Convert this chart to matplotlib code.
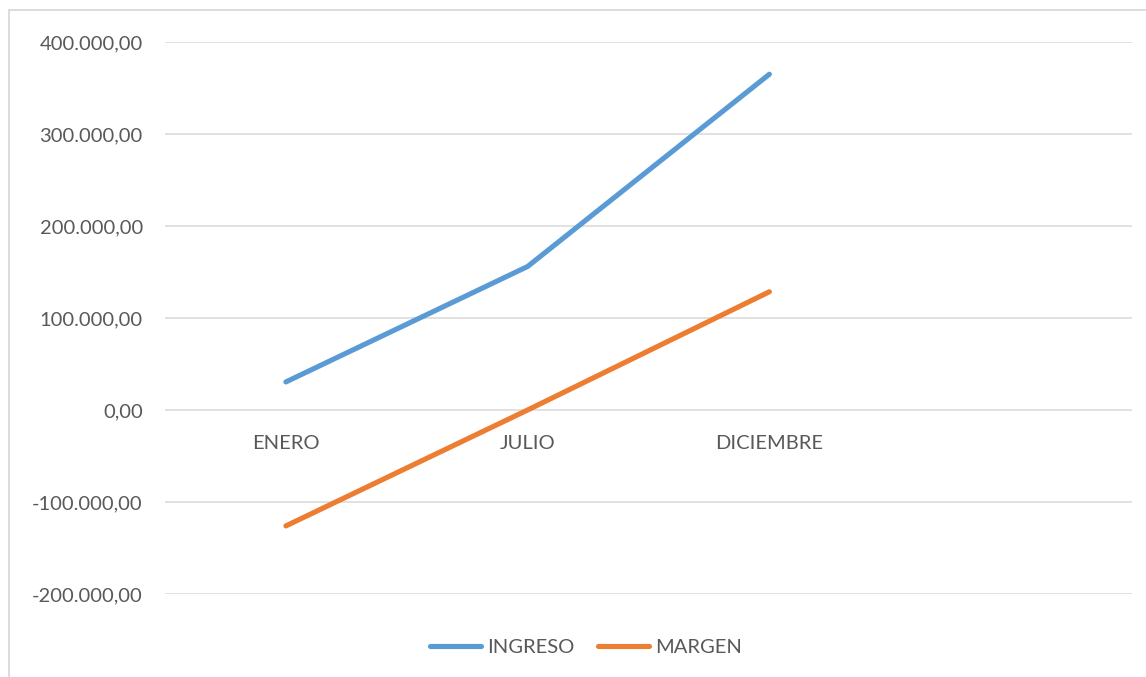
import matplotlib
matplotlib.use('Agg')
import matplotlib.pyplot as plt
from matplotlib.patches import Rectangle
from matplotlib.ticker import FuncFormatter

# data
meses = ['ENERO', 'JULIO', 'DICIEMBRE', '']
ingreso = [30500, 156000, 365000]
margen = [-126000, 0, 128500]
y_ticks = [-200000, -100000, 0, 100000, 200000, 300000, 400000]

plt.rcParams['font.family'] = ['Lato', 'DejaVu Sans']
txt = '#595959'

W, H = 1146, 677
fig = plt.figure(figsize=(W / 100, H / 100), dpi=100)
# light chart-area border (runs off the right and bottom of the image)
fig.patches.append(Rectangle((9 / W, -0.5), 1.2, 1.5 - 10 / H, transform=fig.transFigure,
                             fill=False, edgecolor='#D9D9D9', lw=1.3))

ax = fig.add_axes([165 / W, 1 - 594 / H, (1132 - 165) / W, (594 - 42) / H])
x = list(range(len(meses)))
ax.plot(x[:len(ingreso)], ingreso, color='#5B9BD5', lw=3.7, solid_capstyle='round', label='INGRESO')
ax.plot(x[:len(margen)], margen, color='#ED7D31', lw=3.7, solid_capstyle='round', label='MARGEN')

ax.set_xlim(-0.5, len(meses) - 0.5)
ax.set_ylim(y_ticks[0], y_ticks[-1])
ax.set_yticks(y_ticks)
ax.yaxis.set_major_formatter(FuncFormatter(
    lambda v, p: f'{v:,.2f}'.replace(',', 'X').replace('.', ',').replace('X', '.')))
ax.grid(axis='y', color='#D9D9D9', lw=1.1)
ax.set_axisbelow(True)
for s in ax.spines.values():
    s.set_visible(False)

ax.set_xticks(x)
ax.set_xticklabels(meses)
ax.spines['bottom'].set_position(('data', 0))
ax.tick_params(axis='x', length=0, pad=18, labelsize=14.5, labelcolor=txt)
ax.tick_params(axis='y', length=0, pad=16, labelsize=14.5, labelcolor=txt)

leg = fig.legend(loc='center', bbox_to_anchor=(586 / W, 1 - 647 / H), ncol=2,
                 frameon=False, fontsize=14.5, handlelength=2.5, handletextpad=0.3,
                 columnspacing=1.2)
for t in leg.get_texts():
    t.set_color(txt)

fig.savefig('out.png', dpi=100)
